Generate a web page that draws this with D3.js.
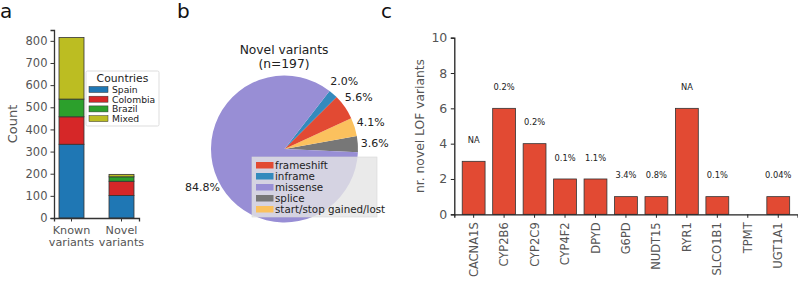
<!DOCTYPE html>
<html>
<head>
<meta charset="utf-8">
<script src="https://cdn.jsdelivr.net/npm/d3@7"></script>
<style>
  body { margin: 0; background: #fff; }
  text { font-family: "DejaVu Sans", sans-serif; }
</style>
</head>
<body>
<script>
// panel a - stacked counts per country
var groups = ["Known\nvariants", "Novel\nvariants"];
var countries = ["Spain", "Colombia", "Brazil", "Mixed"];
var spain = [333, 102];
var colombia = [124, 64];
var brazil = [80, 20];
var mixed = [278, 11];
var countTicks = [0, 100, 200, 300, 400, 500, 600, 700, 800];

// panel b - variant types among novel variants
var varTypes = ["frameshift", "inframe", "missense", "splice", "start/stop gained/lost"];
var varCounts = [11, 4, 167, 7, 8];
var pieOrder = ["splice", "start/stop gained/lost", "frameshift", "inframe", "missense"];

// panel c - novel LOF variants per gene
var genes = ["CACNA1S", "CYP2B6", "CYP2C9", "CYP4F2", "DPYD", "G6PD", "NUDT15", "RYR1", "SLCO1B1", "TPMT", "UGT1A1"];
var lofCounts = [3, 6, 4, 2, 2, 1, 1, 6, 1, 0, 1];
var lofLabels = ["NA", "0.2%", "0.2%", "0.1%", "1.1%", "3.4%", "0.8%", "NA", "0.1%", "", "0.04%"];
var lofTicks = [0, 2, 4, 6, 8, 10];

var W = 798, H = 281;
var grey = "#555";
var svg = d3.select("body").append("svg").attr("width", W).attr("height", H);

// panel letters
[["a", 0], ["b", 177], ["c", 381]].forEach(function (p) {
    svg.append("text").attr("x", p[1]).attr("y", 18).attr("font-size", 20).attr("fill", "#111").text(p[0]);
});

// ---------- a ----------
var colA = {"Spain": "#1f77b4", "Colombia": "#d62728", "Brazil": "#2ca02c", "Mixed": "#bcbd22"};
var seriesA = {"Spain": spain, "Colombia": colombia, "Brazil": brazil, "Mixed": mixed};
var rowsA = groups.map(function (g, i) {
    var r = {group: g};
    countries.forEach(function (c) { r[c] = seriesA[c][i]; });
    return r;
});
var stackA = d3.stack().keys(countries)(rowsA);

var xA = d3.scaleBand().domain(groups).range([54, 139]).paddingInner(0.5).paddingOuter(0.1);
var yA = d3.scaleLinear().domain([0, 849]).range([218, 30]);
var gA = svg.append("g");

gA.selectAll("g.layer").data(stackA).enter().append("g")
    .attr("fill", function (d) { return colA[d.key]; })
    .selectAll("rect").data(function (d) { return d; }).enter().append("rect")
    .attr("x", function (d) { return xA(d.data.group); })
    .attr("width", xA.bandwidth())
    .attr("y", function (d) { return yA(d[1]); })
    .attr("height", function (d) { return yA(d[0]) - yA(d[1]); })
    .attr("stroke", "#333").attr("stroke-width", 0.8);

var axA = gA.append("g").attr("transform", "translate(54,0)")
    .call(d3.axisLeft(yA).tickValues(countTicks).tickSize(3.5).tickPadding(3));
var axAb = gA.append("g").attr("transform", "translate(0,218)")
    .call(d3.axisBottom(xA).tickSize(3.5).tickFormat(""));
[axA, axAb].forEach(function (ax) {
    ax.select(".domain").attr("stroke", "#333").attr("stroke-width", 1.3);
    ax.selectAll(".tick line").attr("stroke", "#333");
    ax.selectAll(".tick text").attr("fill", grey).attr("font-size", 11.5).attr("font-family", "DejaVu Sans");
});
groups.forEach(function (g) {
    g.split("\n").forEach(function (line, i) {
        gA.append("text").attr("text-anchor", "middle").attr("fill", grey).attr("font-size", 11.2)
            .attr("x", xA(g) + xA.bandwidth() / 2).attr("y", 233.5 + i * 12).text(line);
    });
});
gA.append("text").attr("transform", "translate(17,124) rotate(-90)").attr("text-anchor", "middle")
    .attr("fill", grey).attr("font-size", 13).text("Count");

// legend a
var lgA = gA.append("g").attr("transform", "translate(86,71)");
lgA.append("rect").attr("width", 73).attr("height", 55).attr("fill", "#fff").attr("fill-opacity", 0.85)
    .attr("stroke", "#ddd").attr("rx", 1.5);
lgA.append("text").attr("x", 36.5).attr("y", 11.2).attr("text-anchor", "middle").attr("font-size", 10.8)
    .attr("fill", "#222").text("Countries");
countries.forEach(function (c, i) {
    lgA.append("rect").attr("x", 3).attr("y", 15.5 + i * 9.7).attr("width", 19).attr("height", 6)
        .attr("fill", colA[c]).attr("stroke", "#333").attr("stroke-width", 0.5);
    lgA.append("text").attr("x", 26).attr("y", 21.8 + i * 9.7).attr("font-size", 9.2).attr("fill", "#222").text(c);
});

// ---------- b ----------
var colB = {"frameshift": "#E24A33", "inframe": "#348ABD", "missense": "#988ED5", "splice": "#777777", "start/stop gained/lost": "#FBC15E"};
var total = d3.sum(varCounts);
var pieData = pieOrder.map(function (t) { return {type: t, n: varCounts[varTypes.indexOf(t)]}; });
var start = (90 + 2.6) * Math.PI / 180;
var pie = d3.pie().value(function (d) { return d.n; }).sort(null)
    .startAngle(start).endAngle(start - 2 * Math.PI);
var r = 73.5;
var arc = d3.arc().innerRadius(0).outerRadius(r);
var lblArc = d3.arc().innerRadius(r * 1.23).outerRadius(r * 1.23);
var gB = svg.append("g").attr("transform", "translate(284.5,149)");
var arcs = pie(pieData);
gB.selectAll("path").data(arcs).enter().append("path")
    .attr("d", arc).attr("fill", function (d) { return colB[d.data.type]; });
gB.selectAll("text.pct").data(arcs).enter().append("text")
    .attr("class", "pct")
    .attr("transform", function (d) { return "translate(" + lblArc.centroid(d) + ")"; })
    .attr("text-anchor", "middle").attr("dy", "0.35em").attr("font-size", 11).attr("fill", "#222")
    .text(function (d) { return (d.data.n / total * 100).toFixed(1) + "%"; });
svg.append("text").attr("x", 284).attr("y", 54).attr("text-anchor", "middle").attr("font-size", 12.3)
    .attr("fill", "#222").text("Novel variants");
svg.append("text").attr("x", 284).attr("y", 67.5).attr("text-anchor", "middle").attr("font-size", 12.3)
    .attr("fill", "#222").text("(n=" + total + ")");

// legend b
var lgB = svg.append("g").attr("transform", "translate(252,157)");
lgB.append("rect").attr("width", 125).attr("height", 60).attr("fill", "#e5e5e5").attr("fill-opacity", 0.8)
    .attr("stroke", "#d8d8d8").attr("stroke-width", 0.6);
varTypes.forEach(function (t, i) {
    lgB.append("rect").attr("x", 4).attr("y", 5 + i * 11).attr("width", 17.5).attr("height", 6.5).attr("fill", colB[t]);
    lgB.append("text").attr("x", 23).attr("y", 12 + i * 11).attr("font-size", 10.3).attr("fill", "#222").text(t);
});

// ---------- c ----------
var xC = d3.scaleBand().domain(genes).range([454.3, 797.6]).paddingInner(0.25).paddingOuter(0.26);
var yC = d3.scaleLinear().domain([0, 10]).range([214.3, 37.7]);
var gC = svg.append("g");
gC.selectAll("rect").data(genes).enter().append("rect")
    .attr("x", function (g) { return xC(g); })
    .attr("width", xC.bandwidth())
    .attr("y", function (g, i) { return yC(lofCounts[i]); })
    .attr("height", function (g, i) { return yC(0) - yC(lofCounts[i]); })
    .attr("fill", "#E24A33").attr("stroke", "#333").attr("stroke-width", 0.8);
gC.selectAll("text.ann").data(genes).enter().append("text")
    .attr("class", "ann")
    .attr("x", function (g) { return xC(g) + xC.bandwidth() / 2; })
    .attr("y", function (g, i) { return yC(lofCounts[i] + 1.2); })
    .attr("dy", "0.35em").attr("text-anchor", "middle").attr("font-size", 8.3).attr("fill", "#222")
    .text(function (g, i) { return lofLabels[i]; });

var axC = gC.append("g").attr("transform", "translate(454.3,0)")
    .call(d3.axisLeft(yC).tickValues(lofTicks).tickSize(3.5).tickPadding(3.5));
var axCb = gC.append("g").attr("transform", "translate(0,214.3)")
    .call(d3.axisBottom(xC).tickSize(3.5).tickPadding(4));
[axC, axCb].forEach(function (ax) {
    ax.select(".domain").attr("stroke", "#222").attr("stroke-width", 1.3);
    ax.selectAll(".tick line").attr("stroke", "#222");
    ax.selectAll(".tick text").attr("fill", grey).attr("font-family", "DejaVu Sans");
});
axC.selectAll(".tick text").attr("font-size", 12.5);
axCb.selectAll(".tick text").attr("font-size", 11.5)
    .attr("transform", "rotate(-90)").attr("text-anchor", "end")
    .attr("x", -8).attr("y", 0).attr("dy", "0.35em");
gC.append("text").attr("transform", "translate(424,126) rotate(-90)").attr("text-anchor", "middle")
    .attr("fill", grey).attr("font-size", 12.3).text("nr. novel LOF variants");
</script>
</body>
</html>
